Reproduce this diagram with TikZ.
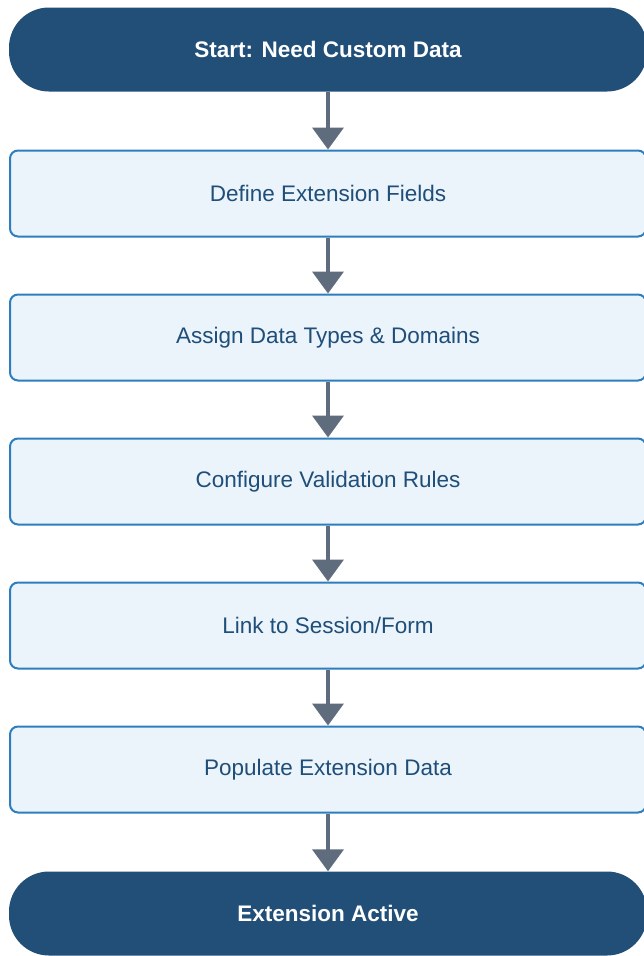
\documentclass[tikz,border=0pt]{standalone}
\usepackage{fontspec}
\setmainfont{Liberation Sans}
\usetikzlibrary{arrows.meta}
\definecolor{termfill}{RGB}{33,79,120}
\definecolor{boxfill}{RGB}{235,243,251}
\definecolor{boxline}{RGB}{46,125,190}
\definecolor{boxtext}{RGB}{31,78,121}
\definecolor{flowgray}{RGB}{95,108,125}
\tikzset{
  term/.style={fill=termfill,text=white,font=\fontsize{22.5}{27}\selectfont\bfseries,
    rounded corners=40pt,minimum width=638pt,minimum height=84pt,inner sep=0pt},
  stepbox/.style={fill=boxfill,draw=boxline,line width=2pt,text=boxtext,
    font=\fontsize{22.5}{27}\selectfont,rounded corners=8pt,
    minimum width=636pt,minimum height=86pt,inner sep=0pt},
  flow/.style={draw=flowgray,line width=4pt,-{Triangle[width=31pt,length=22pt]}}
}
\begin{document}
\begin{tikzpicture}[x=1pt,y=1pt]
\useasboundingbox (0,0) rectangle (643,-956);
\node[term] (start) at (328,-49.5) {Start: Need Custom Data};
\foreach \t [count=\i] in {Define Extension Fields,Assign Data Types \& Domains,
  Configure Validation Rules,Link to Session/Form,Populate Extension Data}
  \node[stepbox] (s\i) at (328,{-49.5-144*\i}) {\t};
\node[term] (stop) at (328,-913.5) {Extension Active};
% arrows
\draw[flow] (start) -- (s1);
\foreach \i [evaluate=\i as \j using int(\i+1)] in {1,...,4}
  \draw[flow] (s\i) -- (s\j);
\draw[flow] (s5) -- (stop);
\end{tikzpicture}
\end{document}
